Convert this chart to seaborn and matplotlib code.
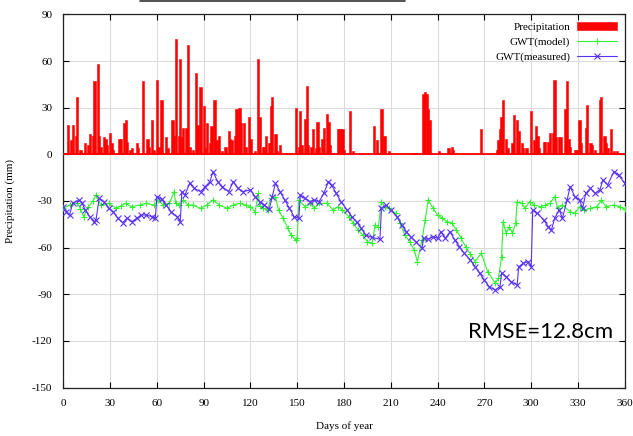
import numpy as np
import pandas as pd
import matplotlib
matplotlib.use('Agg')
import matplotlib.pyplot as plt
from matplotlib.lines import Line2D
import seaborn as sns

# daily precipitation (only the non-zero days), mm
precip_day = [0, 1, 2, 3, 5, 6, 8, 9, 11, 14, 16, 17, 19, 20, 22, 23, 24, 26, 27, 28,
              30, 31, 32, 36, 37, 39, 40, 41, 43, 44, 47, 48, 51, 54, 55, 57, 58, 60, 61, 63,
              66, 67, 70, 71, 72, 74, 75, 76, 77, 79, 80, 81, 83, 85, 86, 88, 90, 91, 92, 94,
              95, 97, 98, 99, 100, 102, 104, 106, 107, 108, 110, 111, 113, 114, 116, 117, 119, 120, 121, 123,
              125, 126, 128, 129, 130, 132, 133, 134, 136, 137, 139, 143, 146, 149, 151, 152, 153, 155, 156, 157,
              159, 160, 162, 163, 164, 166, 167, 169, 170, 171, 172, 176, 177, 178, 179, 180, 184, 186, 199, 201,
              202, 204, 206, 209, 224, 225, 226, 231, 232, 233, 234, 235, 241, 247, 249, 250, 268, 278, 279, 280,
              281, 282, 284, 285, 288, 289, 291, 292, 294, 295, 297, 300, 302, 303, 304, 305, 308, 309, 311, 312,
              314, 315, 316, 318, 319, 322, 323, 324, 325, 328, 329, 331, 332, 335, 336, 338, 339, 341, 344, 345,
              347, 348, 349, 351, 353, 355, 356]
precip_mm = [1, 1, 1, 19, 9, 19, 12, 37, 3, 7.5, 6, 13, 12, 47, 58, 12, 5, 11, 10, 6,
             14, 7, 3, 10, 10, 20, 22, 8, 3, 4, 7.5, 4, 47, 10, 5, 22, 3, 48, 5, 35,
             11, 4, 22, 12, 74, 12, 61, 11, 17, 17, 70, 5, 3, 52, 19, 43, 31, 4, 20, 7,
             18, 35, 9, 9, 12, 2, 5, 15, 10, 9, 12, 29, 30, 20, 20, 5, 24, 10, 1, 2,
             61, 24, 5, 5, 12, 7, 31, 37, 13, 2, 6, 1, 1, 30, 5, 28, 6, 23, 44, 6,
             5, 16, 4, 21, 5, 10, 17, 26, 21, 6, 1, 16, 16, 16, 16, 3, 28, 2, 18, 9,
             1, 29, 12, 2, 1, 1, 1, 39, 40, 39, 29, 22, 2, 4, 5, 3, 16, 3, 9, 16,
             24, 35, 10, 4, 7, 25, 22, 15, 7, 4, 4, 28, 9, 18, 12, 4, 8, 8, 8, 14,
             14, 48, 11, 11, 11, 29, 47, 10, 5, 3, 3, 22, 7, 17, 32, 7, 6, 3, 35, 37,
             12, 7, 4, 16, 2, 2, 1]

# groundwater table, model
model_day = [0, 4, 9, 11, 13, 16, 19, 21, 24, 29, 34, 37, 40, 44, 49, 53, 58, 61, 64, 68,
             71, 72, 74, 77, 80, 83, 88, 92, 96, 100, 105, 109, 113, 117, 120, 123, 125, 126, 128, 131,
             133, 136, 138, 141, 144, 146, 149, 150, 151, 155, 158, 161, 164, 169, 173, 176, 179, 183, 186, 189,
             192, 195, 198, 200, 202, 204, 206, 209, 213, 216, 219, 222, 225, 227, 230, 232, 234, 237, 240, 243,
             246, 249, 252, 255, 258, 261, 264, 268, 272, 277, 279, 281, 282, 284, 286, 288, 290, 291, 294, 296,
             299, 302, 306, 309, 312, 315, 317, 320, 325, 328, 331, 334, 338, 342, 345, 348, 353, 357, 360]
model_gwt = [-34.7, -32.6, -31.5, -35, -40.1, -33.7, -30, -26.2, -32.6, -31.5, -34.7, -33, -31.5, -33.7, -32.6, -31.5, -32.6, -29.4, -32.6, -31.5,
             -24, -31, -32.6, -29.4, -32.6, -32.6, -34.7, -32.6, -29.4, -32.6, -34.7, -32.6, -31.5, -32.6, -33.7, -36.9, -25.1, -33, -34.7, -35.8,
             -28.3, -27.2, -35.8, -41.1, -47.6, -51.9, -55.1, -54, -29.4, -33.7, -31.5, -34.7, -31.5, -31.5, -35.8, -33.7, -35.8, -40.1, -44.4, -48.6,
             -51.9, -56.1, -57.2, -45.4, -46.5, -30.4, -33.7, -34.7, -37.9, -44.4, -51.9, -56.1, -61.5, -69, -55.1, -42.2, -29.4, -34.7, -39, -41.1,
             -43.3, -44, -48.6, -54, -59.4, -64, -69, -63.6, -75.4, -82.9, -79.7, -65.8, -43.3, -50.8, -46.5, -50.8, -44.4, -30.4, -31.5, -34.7,
             -30.4, -32.6, -33.7, -32.6, -31.5, -27.2, -34.7, -32.6, -36.9, -37.9, -33.7, -35.8, -34.7, -33.7, -29.4, -33.7, -32.6, -33.7, -35.4]

# groundwater table, measured
meas_day = [0, 2, 4, 6, 10, 12, 14, 17, 20, 21, 23, 26, 29, 32, 35, 38, 41, 44, 47, 50,
            53, 57, 59, 60, 63, 66, 69, 73, 75, 76, 78, 81, 84, 88, 91, 94, 96, 99, 102, 106,
            109, 112, 115, 120, 123, 126, 129, 132, 134, 136, 139, 142, 145, 148, 151, 152, 155, 158, 161, 164,
            167, 170, 172, 175, 178, 182, 185, 188, 191, 194, 198, 203, 204, 207, 210, 214, 217, 220, 223, 226,
            230, 231, 234, 237, 240, 242, 245, 248, 251, 254, 257, 261, 264, 267, 270, 273, 277, 280, 281, 284,
            287, 291, 292, 295, 298, 300, 301, 304, 308, 311, 313, 315, 318, 320, 323, 325, 328, 331, 333, 335,
            338, 341, 344, 346, 349, 353, 356, 360]
meas_gwt = [-33.7, -36.9, -39, -31.5, -29.4, -31.1, -35.8, -40.1, -43.3, -42, -28.3, -30.4, -34.7, -36.9, -41.1, -43.9, -41.1, -43.3, -41.1, -39,
            -39, -40.1, -41.1, -27.2, -28.9, -32.6, -36.9, -40.1, -43.3, -24, -26.2, -18.7, -21.9, -24, -20.8, -17.6, -11.2, -17.6, -20.8, -24,
            -17.6, -21.9, -24, -22.9, -27.2, -30.4, -32.6, -35.4, -27.2, -18.7, -24, -29.4, -34.7, -40.1, -41.1, -26.2, -28.3, -30.4, -29.4, -30.4,
            -25.1, -17.6, -19.7, -25.1, -30.4, -35.8, -40.1, -43.3, -47.6, -51.9, -53.4, -54.6, -34.7, -32.6, -35.8, -40.1, -45.4, -49.7, -53.4, -56.1,
            -60.4, -54, -54.6, -52.9, -54, -49.7, -54, -49.7, -55.1, -59.4, -63.6, -67.9, -72.2, -76.5, -80.8, -85.1, -87.2, -85.1, -76.5, -78.6,
            -81.8, -84, -72.2, -70, -69, -72.2, -35.8, -37.9, -42.2, -46.5, -48.6, -41.1, -35.8, -41.1, -29.4, -20.8, -27.2, -29.4, -34.7, -25.1,
            -21.9, -25.1, -22.9, -16.5, -19.7, -11.2, -13.3, -18.7]

x_ticks = list(range(0, 361, 30))
y_ticks = list(range(-150, 91, 30))

sns.set_style('ticks')
plt.rcParams['font.family'] = ['Liberation Serif', 'DejaVu Serif']
plt.rcParams['axes.unicode_minus'] = False
plt.rcParams['text.color'] = 'black'
plt.rcParams['axes.labelcolor'] = 'black'
plt.rcParams['xtick.color'] = 'black'
plt.rcParams['ytick.color'] = 'black'

green = '#33f033'
blue = '#5a32f5'

fig = plt.figure(figsize=(6.33, 4.36), dpi=100)
ax = fig.add_axes([0.100, 0.111, 0.887, 0.856])

ax.bar(precip_day, precip_mm, width=1.4, color='red', edgecolor='red', linewidth=0.4,
       label='Precipitation', zorder=3)
ax.axhline(0, color='red', lw=1.3, zorder=3)

model_df = pd.DataFrame({'day': model_day, 'gwt': model_gwt})
meas_df = pd.DataFrame({'day': meas_day, 'gwt': meas_gwt})
sns.lineplot(data=model_df, x='day', y='gwt', ax=ax, color=green, lw=0.8,
             marker='+', markersize=4.5, markeredgewidth=0.8, markeredgecolor=green,
             label='GWT(model)', zorder=4)
sns.lineplot(data=meas_df, x='day', y='gwt', ax=ax, color=blue, lw=0.8,
             marker='x', markersize=4, markeredgewidth=0.8, markeredgecolor=blue,
             label='GWT(measured)', zorder=5)

ax.set_xlim(0, 360)
ax.set_ylim(-150, 90)
ax.set_xticks(x_ticks)
ax.set_yticks(y_ticks)
ax.grid(True, color='#dcdcdc', lw=0.8, zorder=0)
ax.set_axisbelow(True)
ax.tick_params(direction='in', top=True, right=True, length=4, width=0.8,
               labelsize=8, pad=8)
for s in ax.spines.values():
    s.set_color('#222222')
    s.set_linewidth(0.9)

ax.set_xlabel('Days of year', fontsize=8, labelpad=10)
ax.set_ylabel('Precipitation (mm)', fontsize=8, labelpad=12)

handles, labels = ax.get_legend_handles_labels()
order = [labels.index('Precipitation'), labels.index('GWT(model)'), labels.index('GWT(measured)')]
ax.legend([handles[i] for i in order], [labels[i] for i in order],
          loc='upper right', frameon=False, markerfirst=False, fontsize=8,
          handlelength=3.6, handletextpad=0.6, labelspacing=0.45,
          borderaxespad=0.3)

fig.text(0.739, 0.225, 'RMSE=12.8cm', fontsize=16, family='Lato', va='baseline',
         color='black')
fig.add_artist(Line2D([140 / 633, 405 / 633], [0.998, 0.998], color='#333333', lw=1.2))

fig.savefig('out.png', dpi=100)
